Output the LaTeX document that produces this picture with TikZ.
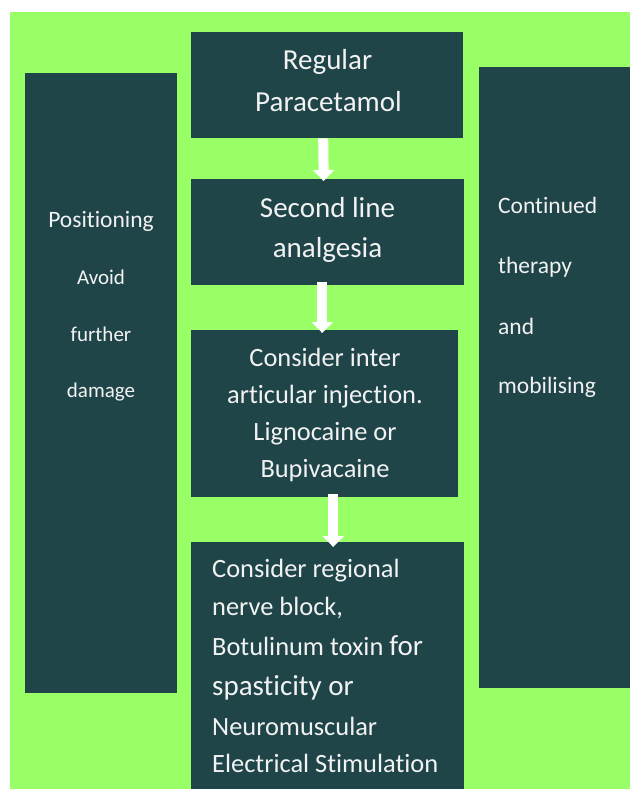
\documentclass[tikz,border=0pt]{standalone}
\usepackage{fontspec}
\setmainfont{Carlito}[Ligatures={NoCommon,NoContextual}]
\usetikzlibrary{arrows.meta,calc}
\definecolor{bggreen}{RGB}{153,255,102}
\definecolor{boxteal}{RGB}{31,69,73}
\definecolor{txt}{RGB}{242,242,242}
\tikzset{
  x=1pt, y=-1pt,
  box/.style={fill=boxteal, draw=none, inner sep=0pt, anchor=north west},
  ln/.style={text=txt, inner sep=0pt, anchor=base},
  lnl/.style={text=txt, inner sep=0pt, anchor=base west},
  flow/.style={draw=white, line width=10pt, line cap=butt,
    -{Triangle[width=21pt,length=11pt,fill=white]}},
  fA/.style={font=\fontsize{29}{29}\selectfont},
  fC/.style={font=\fontsize{26.4}{26.4}\selectfont},
  fS/.style={font=\fontsize{23.5}{23.5}\selectfont},
  fL/.style={font=\fontsize{21}{21}\selectfont},
}
\begin{document}
\begin{tikzpicture}
\useasboundingbox (0,0) rectangle (630,789);
\fill[bggreen] (10,12) rectangle (630,789);
% boxes
\node[box, minimum width=272, minimum height=106] (A) at (191,32) {};
\node[box, minimum width=273, minimum height=106] (B) at (191,179) {};
\node[box, minimum width=267, minimum height=167] (C) at (191,330) {};
\node[box, minimum width=273, minimum height=247] (D) at (191,542) {};
\node[box, minimum width=152, minimum height=620] (L) at (25,73) {};
\node[box, minimum width=151, minimum height=621] (R) at (479,67) {};
% arrows
\draw[flow] ($(A.south)+(-4,0)$) -- ($(B.north)+(-4,2)$);
\draw[flow] ($(B.south)+(-5.5,-3)$) -- ($(C.north)+(-2.5,3)$);
\draw[flow] ($(C.south)+(8.5,-3)$) -- ($(D.north)+(5.5,5)$);
% box A text
\node[ln,fA] (a1) at (327.5,69.5) {Regular};
\node[ln,fA] (a2) at (328.5,111) {Paracetamol};
% box B text
\node[ln,fA] (b1) at (327.5,217) {Second line};
\node[ln,fA] (b2) at (327.5,257) {analgesia};
% box C text
\node[ln,fC] (c1) at (325,366) {Consider inter};
\node[ln,fC] (c2) at (325,403) {articular injection.};
\node[ln,fC] (c3) at (325,440) {Lignocaine or};
\node[ln,fC] (c4) at (325,477) {Bupivacaine};
% box D text
\node[lnl,fC] (d1) at (212,577) {Consider regional};
\node[lnl,fC] (d2) at (212,615) {nerve block,};
\node[lnl,fC] (d3) at (212,655) {Botulinum toxin \fontsize{29}{29}\selectfont for};
\node[lnl,font=\fontsize{29}{29}\selectfont] (d4) at (212,695) {spasticity or};
\node[lnl,fC] (d5) at (212,735) {Neuromuscular};
\node[lnl,fC] (d6) at (212,772) {Electrical Stimulation};
% left box text
\node[ln,fS] (l1) at (101,227) {Positioning};
\node[ln,fL] (l2) at (101,284) {Avoid};
\node[ln,fL] (l3) at (101,341) {further};
\node[ln,fL] (l4) at (101,397) {damage};
% right box text
\node[lnl,fS] (r1) at (498,213) {Continued};
\node[lnl,fS] (r2) at (498,273) {therapy};
\node[lnl,fS] (r3) at (498,334) {and};
\node[lnl,fS] (r4) at (498,393) {mobilising};
\end{tikzpicture}
\end{document}
